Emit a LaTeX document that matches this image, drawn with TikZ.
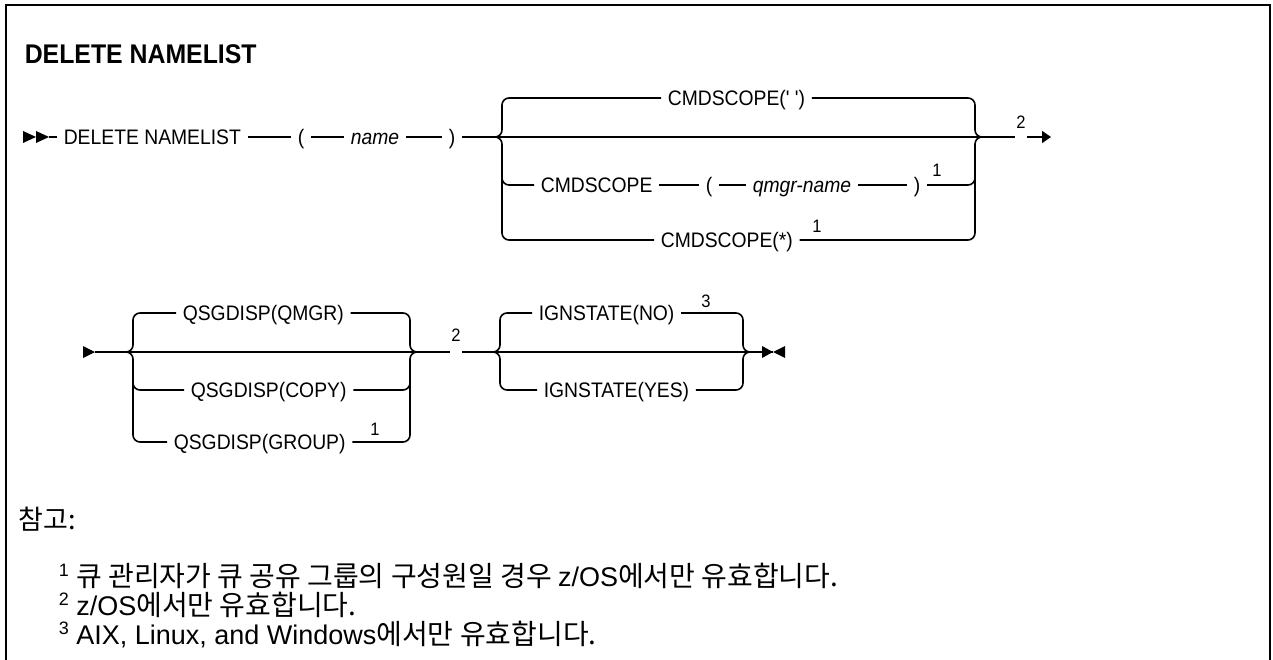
\documentclass[tikz,border=0pt]{standalone}
\usepackage{fontspec}
\usepackage{tikz}
\usetikzlibrary{arrows.meta}
\setmainfont{Liberation Sans}
\newfontfamily\railfont{Liberation Sans}[FakeStretch=0.92]
\newfontfamily\notefont{Liberation Sans}
\newfontfamily\krfont{Noto Sans CJK KR}
\newcommand{\kr}[1]{{\krfont #1}}
\newcommand{\notemark}[1]{\raisebox{10pt}{\fontsize{18}{20}\selectfont #1}}

\begin{document}
\begin{tikzpicture}[x=1pt,y=-1pt,line width=1.6pt,
    kw/.style={anchor=west,inner xsep=6pt,inner ysep=0pt,text height=15pt,text depth=0pt,
      font=\railfont\fontsize{21}{25}\selectfont},
    var/.style={kw,font=\railfont\fontsize{21}{25}\selectfont\itshape},
    fn/.style={inner sep=1pt,font=\railfont\fontsize{18}{20}\selectfont},
    notetext/.style={anchor=base west,inner sep=0pt,font=\notefont\fontsize{27}{30}\selectfont},
    rail/.style={rounded corners=7pt},
    tip/.style={-{Triangle[length=9pt,width=12pt]}}]
    \useasboundingbox (0,0) rectangle (1273,660);

    % Frame and title
    \draw[line width=2.4pt] (6,680) -- (6,5) -- (1270,5) -- (1270,680);
    \node[anchor=west,inner sep=0pt,font=\railfont\fontsize{27}{31}\selectfont\bfseries] (title) at (24,54) {DELETE NAMELIST};

    % First row
    \fill (23,131) -- (36,137) -- (23,143) -- cycle;
    \fill (36,131) -- (49,137) -- (36,143) -- cycle;
    \coordinate (start1) at (49,137);
    \node[kw] (del) at (57,137) {DELETE NAMELIST};
    \node[kw] (lp) at (291,137) {(};
    \node[var] (name) at (344,137) {name};
    \node[kw] (rp) at (442,137) {)};
    \draw (start1) -- (del.west);
    \draw (del.east) -- (lp.west);
    \draw (lp.east) -- (name.west);
    \draw (name.east) -- (rp.west);

    % CMDSCOPE choices
    \node[kw] (csblank) at (661,98) {CMDSCOPE(' ')};
    \node[kw] (cs) at (534,185) {CMDSCOPE};
    \node[kw] (lpq) at (699,185) {(};
    \node[var] (qmgr) at (746,185) {qmgr-name};
    \node[kw] (rpq) at (907,185) {)};
    \node[fn] (n1a) at (937,170) {1};
    \node[kw] (csall) at (654,240) {CMDSCOPE(*)};
    \node[fn] (n1b) at (817,226) {1};
    \draw (cs.east) -- (lpq.west);
    \draw (lpq.east) -- (qmgr.west);
    \draw (qmgr.east) -- (rpq.west);
    \coordinate (g1in) at (494,137);
    \coordinate (g1out) at (983,137);
    \draw (rp.east) -- (g1out);
    \draw[rail] (csblank.west) -- (502,98) -- (502,137) -- (g1in);
    \draw[rail] (g1in) -- (502,137) -- (502,240) -- (csall.west);
    \draw[rail] (502,170) -- (502,185) -- (cs.west);
    \draw[rail] (csblank.east) -- (975,98) -- (975,137) -- (g1out);
    \draw[rail] (g1out) -- (975,137) -- (975,240) -- (csall.east);
    \draw[rail] (rpq.east) -- (975,185) -- (975,170);
    \node[fn] (n2a) at (1021,122) {2};
    \coordinate (end1) at (1051,137);
    \draw (g1out) -- (n2a.west |- g1out);
    \draw[tip] (n2a.east |- g1out) -- (end1);

    % Second row
    \fill (83,346) -- (95,352) -- (83,358) -- cycle;
    \coordinate (start2) at (95,352);
    \coordinate (g2in) at (126,352);
    \coordinate (g2out) at (418,352);
    \node[kw] (qsgqmgr) at (176,313) {QSGDISP(QMGR)};
    \node[kw] (qsgcopy) at (184,390) {QSGDISP(COPY)};
    \node[kw] (qsggroup) at (167,442) {QSGDISP(GROUP)};
    \node[fn] (n1c) at (375,429) {1};
    \draw (start2) -- (g2out);
    \draw[rail] (qsgqmgr.west) -- (133,313) -- (133,352) -- (g2in);
    \draw[rail] (g2in) -- (133,352) -- (133,442) -- (qsggroup.west);
    \draw[rail] (133,375) -- (133,390) -- (qsgcopy.west);
    \draw[rail] (qsgqmgr.east) -- (410,313) -- (410,352) -- (g2out);
    \draw[rail] (g2out) -- (410,352) -- (410,442) -- (qsggroup.east);
    \draw[rail] (qsgcopy.east) -- (410,390) -- (410,375);

    % IGNSTATE choices
    \node[fn] (n2b) at (456,335) {2};
    \coordinate (g3in) at (493,352);
    \coordinate (g3out) at (751,352);
    \node[kw] (ignno) at (532,313) {IGNSTATE(NO)};
    \node[fn] (n3) at (706,301) {3};
    \node[kw] (ignyes) at (537,390) {IGNSTATE(YES)};
    \draw (g2out) -- (n2b.west |- g2out);
    \draw (n2b.east |- g2out) -- (g3out);
    \draw[rail] (ignno.west) -- (500,313) -- (500,352) -- (g3in);
    \draw[rail] (g3in) -- (500,352) -- (500,390) -- (ignyes.west);
    \draw[rail] (ignno.east) -- (743,313) -- (743,352) -- (g3out);
    \draw[rail] (g3out) -- (743,352) -- (743,390) -- (ignyes.east);
    \coordinate (end2) at (773,352);
    \draw (g3out) -- (end2);
    \fill (762,346) -- (773,352) -- (762,358) -- cycle;
    \fill (785,346) -- (773,352) -- (785,358) -- cycle;

    % Notes
    \node[notetext] (notehead) at (18,529) {\kr{참고:}};
    \node[notetext] (note1) at (58,586) {\notemark{1} \kr{\fontsize{28}{30}\selectfont 큐 관리자가 큐 공유 그룹의 구성원일 경우 }z/OS\kr{\fontsize{28}{30}\selectfont 에서만 유효합니다.}};
    \node[notetext] (note2) at (58,615) {\notemark{2} z/OS\kr{\fontsize{28}{30}\selectfont 에서만 유효합니다.}};
    \node[notetext] (note3) at (58,644) {\notemark{3} AIX, Linux, and Windows\kr{\fontsize{28}{30}\selectfont 에서만 유효합니다.}};
\end{tikzpicture}
\end{document}
